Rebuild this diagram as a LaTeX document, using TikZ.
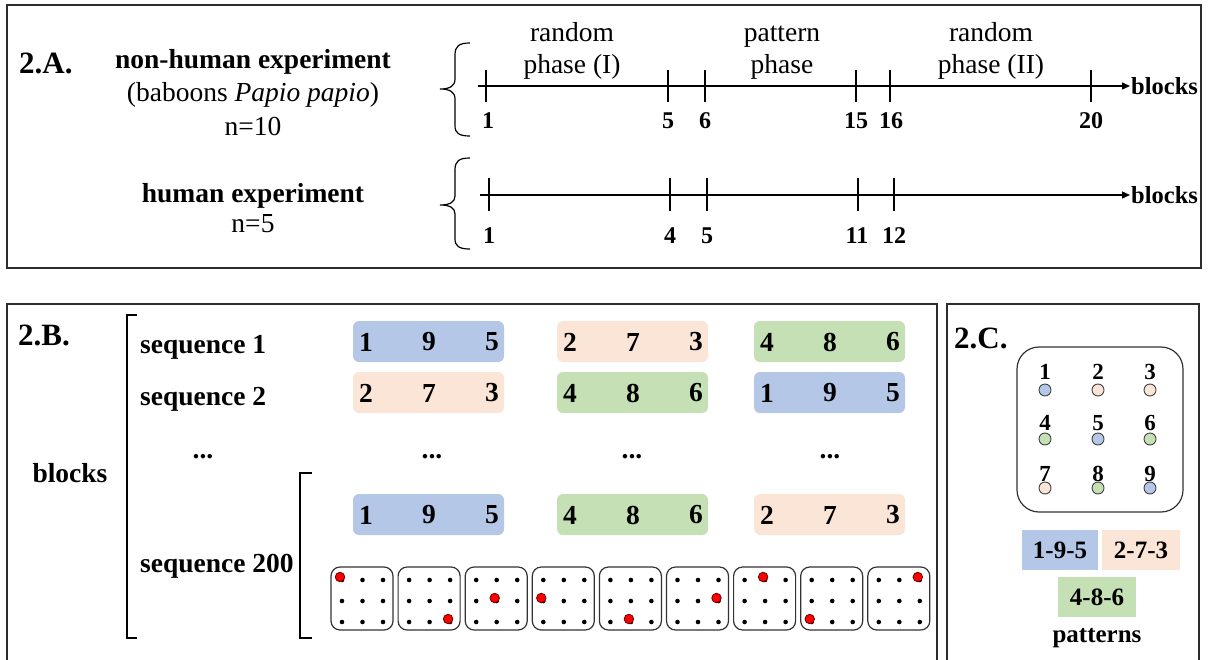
\documentclass[tikz,border=0pt]{standalone}
\usepackage{fontspec}
\setmainfont{Liberation Serif}
\usetikzlibrary{arrows.meta}
\definecolor{cblue}{RGB}{180,199,231}
\definecolor{cpeach}{RGB}{251,229,214}
\definecolor{cgreen}{RGB}{197,224,180}
\definecolor{frame}{RGB}{45,45,45}
\tikzset{
  panel/.style={draw=frame, line width=1.7pt},
  txt/.style={inner sep=0pt, anchor=base},
  big/.style={font=\fontsize{27.5}{32}\selectfont},
  bigb/.style={font=\fontsize{27.5}{32}\selectfont\bfseries},
  panellbl/.style={inner sep=0pt, anchor=base west, font=\fontsize{31}{34}\selectfont\bfseries},
  numlbl/.style={inner sep=0pt, anchor=base, font=\fontsize{24}{26}\selectfont\bfseries},
  axisline/.style={line width=1.3pt, -{Triangle[length=8pt,width=7pt]}},
  tickline/.style={line width=1.3pt},
  bracestyle/.style={line width=1.2pt},
  seqbox/.style={rounded corners=6pt, draw=none},
  dotbox/.style={draw=black!80, line width=1.2pt, rounded corners=9pt},
  griddot/.style={circle, fill=black, inner sep=0pt, minimum size=4.6pt},
  reddot/.style={circle, fill=red, draw=black!60!red, line width=0.8pt, inner sep=0pt, minimum size=9.5pt},
  keydot/.style={circle, draw=black!75, line width=0.9pt, inner sep=0pt, minimum size=12pt},
  patbox/.style={draw=none, inner sep=0pt, minimum width=77pt, minimum height=40pt, font=\fontsize{25}{28}\selectfont\bfseries}
}
\begin{document}
\begin{tikzpicture}[x=1pt, y=-1pt]
\useasboundingbox (0,0) rectangle (1208,659);
% ---------- panel frames
\draw[panel] (7,5) rectangle (1201,268);
\draw[panel] (7,675) -- (7,304) -- (937,304) -- (937,675);
\draw[panel] (947,675) -- (947,304) -- (1199,304) -- (1199,675);

% ---------- Panel A
\node[panellbl] (labA) at (19,73) {2.A.};
\node[txt, bigb] (nh) at (253,68) {non-human experiment};
\node[txt, big] (bab) at (253,101) {(baboons \textit{Papio papio})};
\node[txt, big] (n10) at (253,135) {n=10};
\node[txt, bigb] (hu) at (253,202) {human experiment};
\node[txt, big] (n5) at (253,232) {n=5};

% braces
\draw[bracestyle] (470,43) .. controls (459,43) and (455,46) .. (455,55) -- (455,79)
  .. controls (455,86) and (450,89) .. (440,89)
  .. controls (450,89) and (455,92) .. (455,99) -- (455,126)
  .. controls (455,133) and (459,136) .. (470,136);
\draw[bracestyle] (470,158) .. controls (459,158) and (455,161) .. (455,170) -- (455,196)
  .. controls (455,202) and (450,205) .. (440,205)
  .. controls (450,205) and (455,208) .. (455,214) -- (455,239)
  .. controls (455,246) and (459,249) .. (470,249);

% phase labels
\node[txt, big] (r1a) at (572,41) {random};
\node[txt, big] (r1b) at (572,73) {phase (I)};
\node[txt, big] (pa) at (782,41) {pattern};
\node[txt, big] (pb) at (782,73) {phase};
\node[txt, big] (r2a) at (991,41) {random};
\node[txt, big] (r2b) at (991,73) {phase (II)};

% axis 1
\coordinate (a1s) at (478,86);
\node[inner sep=1pt, anchor=west, font=\fontsize{24.5}{28}\selectfont\bfseries] (bl1) at (1130,86) {blocks};
\draw[axisline] (a1s) -- (bl1.west);
\foreach \x/\l/\lx in {486/1/488, 668/5/668, 705/6/705, 856/15/856, 890/16/891, 1091/20/1091} {
  \draw[tickline] (\x,70) -- (\x,102);
  \node[numlbl] (t1n\l) at (\lx,128) {\l};
}
% axis 2
\coordinate (a2s) at (480,195);
\node[inner sep=1pt, anchor=west, font=\fontsize{24.5}{28}\selectfont\bfseries] (bl2) at (1130,195) {blocks};
\draw[axisline] (a2s) -- (bl2.west);
\foreach \x/\l/\lx in {489/1/489, 670/4/670, 707/5/707, 858/11/857, 894/12/894} {
  \draw[tickline] (\x,178) -- (\x,211);
  \node[numlbl] (t2n\l) at (\lx,243) {\l};
}

% ---------- Panel B
\node[panellbl] (labB) at (18,345) {2.B.};
\node[txt, bigb] (blk) at (70,482) {blocks};
\draw[bracestyle] (137,315) -- (127,315) -- (127,638) -- (137,638);
\draw[bracestyle] (312,473) -- (300,473) -- (300,638) -- (312,638);
\node[txt, bigb, anchor=base west] (s1) at (140,353) {sequence 1};
\node[txt, bigb, anchor=base west] (s2) at (140,405) {sequence 2};
\node[txt, bigb] (d0) at (203,458) {...};
\node[txt, bigb, anchor=base west] (s200) at (140,572) {sequence 200};
\foreach \x [count=\i] in {432,632,830} { \node[txt, bigb] (d\i) at (\x,458) {...}; }

% sequence boxes
\foreach \row/\top in {1/321, 2/372, 3/494} {
  \foreach \col/\left in {1/353, 2/557, 3/754} {
    \coordinate (c\row\col) at (\left,\top);
  }
}
\foreach \row/\col/\colr/\a/\b/\c in {
  1/1/cblue/1/9/5, 1/2/cpeach/2/7/3, 1/3/cgreen/4/8/6,
  2/1/cpeach/2/7/3, 2/2/cgreen/4/8/6, 2/3/cblue/1/9/5,
  3/1/cblue/1/9/5, 3/2/cgreen/4/8/6, 3/3/cpeach/2/7/3} {
  \fill[seqbox, fill=\colr] (c\row\col) rectangle ++(151,41);
  \node[inner sep=0pt, bigb] (n\row\col a) at ([shift={(13,21)}]c\row\col) {\a};
  \node[inner sep=0pt, bigb] (n\row\col b) at ([shift={(76,21)}]c\row\col) {\b};
  \node[inner sep=0pt, bigb] (n\row\col c) at ([shift={(139,21)}]c\row\col) {\c};
}

% dot grids
\foreach \rc/\rr [count=\i from 0] in {0/0, 2/2, 1/1, 0/1, 1/2, 2/1, 1/0, 0/2, 2/0} {
  \pgfmathsetmacro{\bx}{331+67.1*\i}
  \draw[dotbox] (\bx,567) rectangle ++(62,63);
  \foreach \c in {0,1,2} { \foreach \r in {0,1,2} {
    \node[griddot] at (\bx+11+20.5*\c, 567+13+21*\r) {};
  } }
  \node[reddot] (red\i) at (\bx+9+20.5*\rc, 567+10+21*\rr) {};
}

% ---------- Panel C
\node[panellbl] (labC) at (954,348) {2.C.};
\draw[dotbox, rounded corners=22pt] (1017,347) rectangle (1183,512);
\foreach \num/\cx/\cy/\colr in {
  1/1045/0/cblue, 2/1098/0/cpeach, 3/1150/0/cpeach,
  4/1045/1/cgreen, 5/1098/1/cblue, 6/1150/1/cgreen,
  7/1045/2/cpeach, 8/1098/2/cgreen, 9/1150/2/cblue} {
  \node[inner sep=0pt, font=\fontsize{23}{26}\selectfont\bfseries] (k\num) at (\cx, 372+51*\cy) {\num};
  \node[keydot, fill=\colr] (kc\num) at (\cx, 390+49*\cy) {};
}
\node[patbox, fill=cblue, minimum width=76pt] (p195) at (1060,550) {1-9-5};
\node[patbox, fill=cpeach, minimum width=78pt] (p273) at (1141,550) {2-7-3};
\node[patbox, fill=cgreen, minimum width=78pt] (p486) at (1097,597) {4-8-6};
\node[txt, font=\fontsize{25}{28}\selectfont\bfseries] (pat) at (1097,642) {patterns};
\end{tikzpicture}
\end{document}
